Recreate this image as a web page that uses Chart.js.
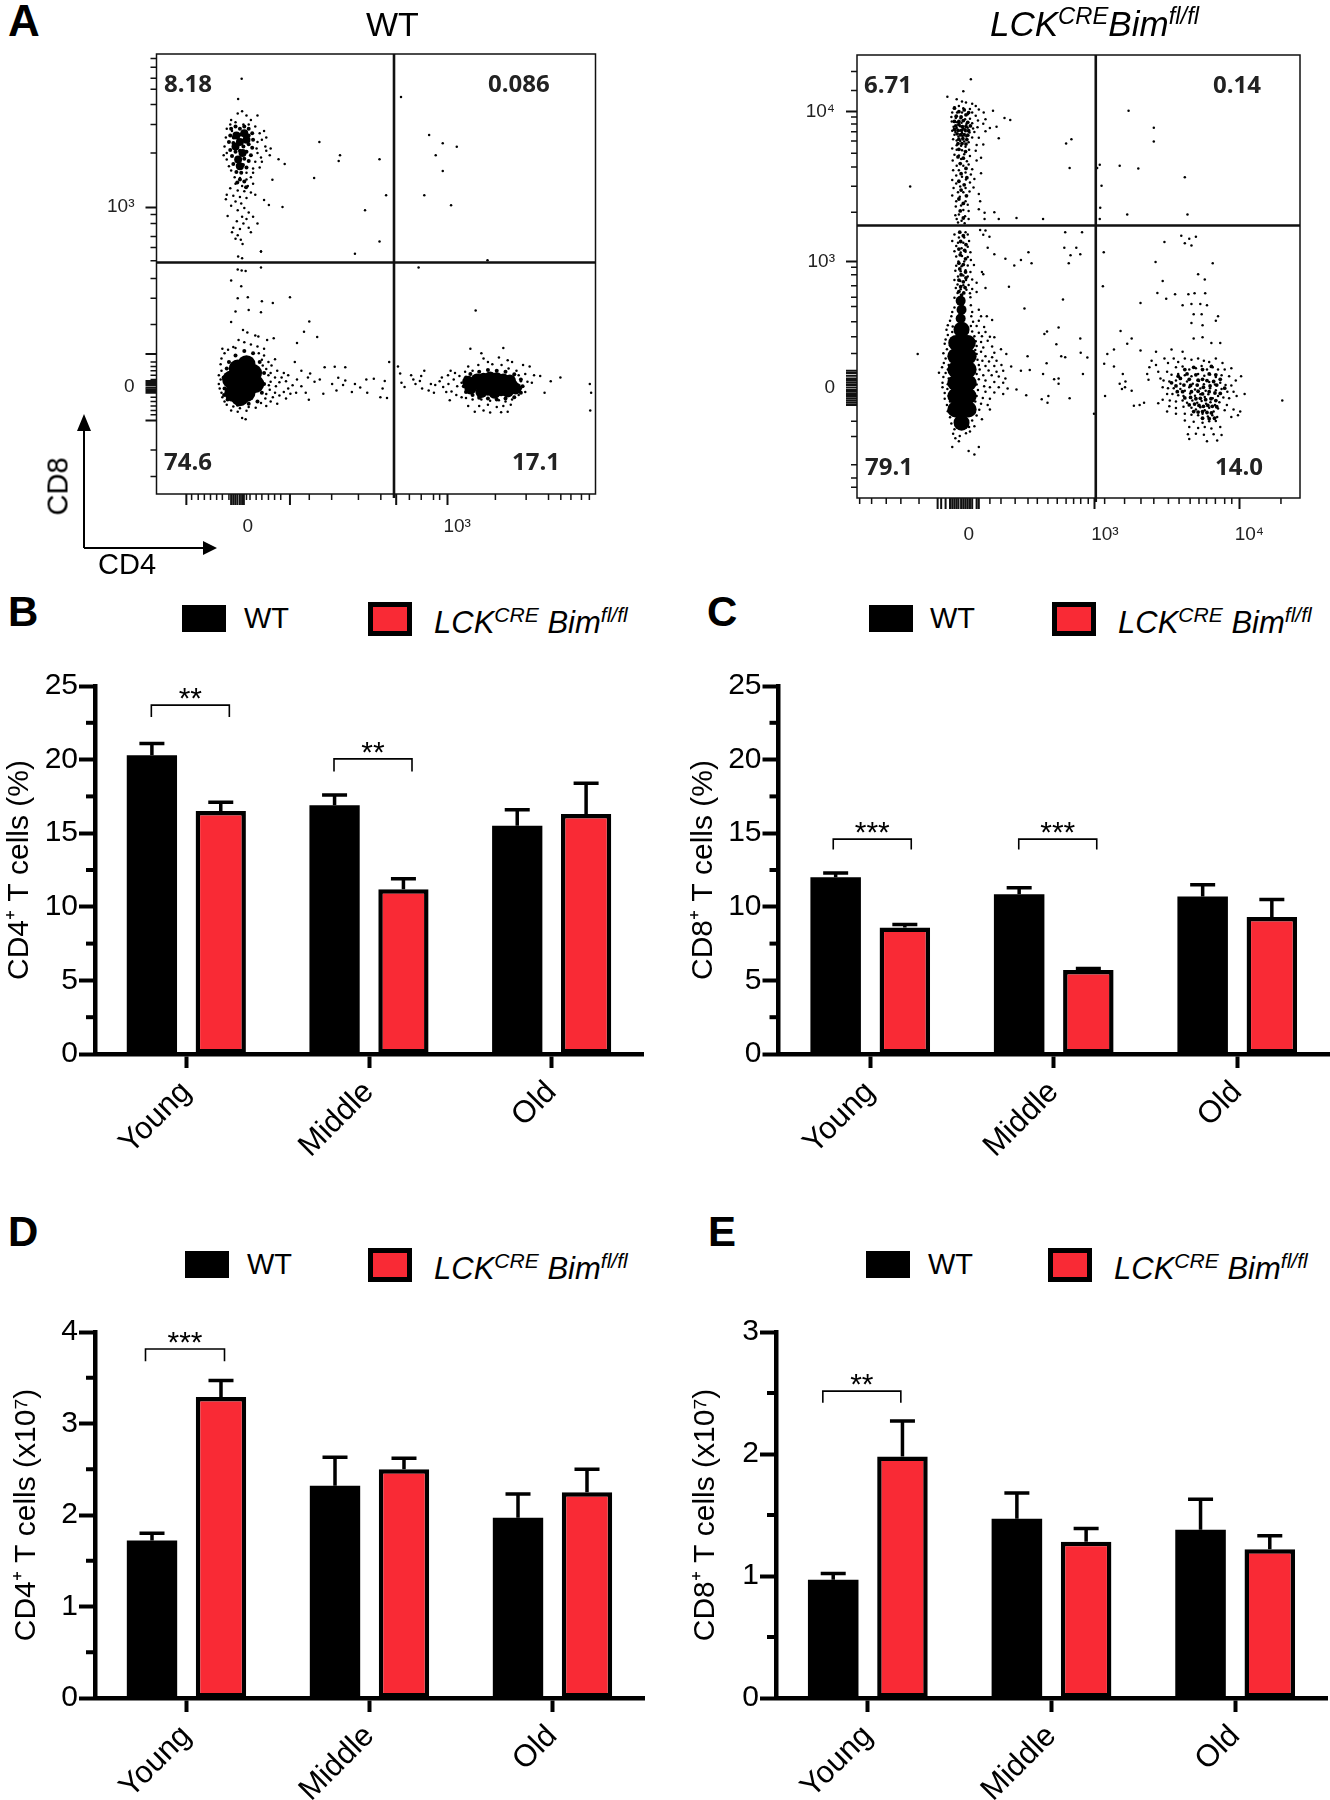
<!DOCTYPE html>
<html>
<head>
<meta charset="utf-8">
<title>CD4 and CD8 T cells</title>
<script src="https://cdn.jsdelivr.net/npm/chart.js@4"></script>
<style>
  body { margin: 0; background: #fff; width: 1330px; height: 1800px; position: relative; overflow: hidden; font-family: "Liberation Sans", Arial, sans-serif; color: #000; }
  canvas { position: absolute; }
  .t { position: absolute; white-space: nowrap; line-height: 1; }
  .t sup { font-size: .68em; line-height: 0; position: relative; top: -.02em; vertical-align: .5em; }
  .swatch { position: absolute; box-sizing: border-box; }
</style>
</head>
<body>
<svg style="position:absolute;left:0;top:0" width="300" height="600">
  <path d="M84 548V428M84 548H203" fill="none" stroke="#000" stroke-width="2"/>
  <path d="M84 414L77 431H91ZM217 548L203 541V555Z" fill="#000"/>
</svg>
<script>
// bar data, values
const ageGroups = ['Young', 'Middle', 'Old'];

const cd4PctWT = [20.3, 16.9, 15.5];
const cd4PctKO = [16.5, 11.2, 16.3];
const cd4PctWTErr = [21.1, 17.6, 16.6];
const cd4PctKOErr = [17.1, 11.9, 18.4];

const cd8PctWT = [12.0, 10.85, 10.7];
const cd8PctKO = [8.6, 5.7, 9.3];
const cd8PctWTErr = [12.3, 11.3, 11.5];
const cd8PctKOErr = [8.8, 5.8, 10.5];

const cd4NumWT = [1.72, 2.32, 1.97];
const cd4NumKO = [3.29, 2.5, 2.25];
const cd4NumWTErr = [1.8, 2.63, 2.23];
const cd4NumKOErr = [3.47, 2.62, 2.5];

const cd8NumWT = [0.97, 1.47, 1.38];
const cd8NumKO = [1.98, 1.28, 1.22];
const cd8NumWTErr = [1.02, 1.68, 1.63];
const cd8NumKOErr = [2.27, 1.39, 1.33];

// flow plots, both axes in percent of the plot box
const wtYTicks = [65.2, 24.3];
const wtYLabels = ['10³', '0'];
const wtXTicks = [18.5, 66.2];
const wtXLabels = ['0', '10³'];
const wtYMinor = [99, 97, 94.5, 92, 88.5, 84, 77.5, 63.5, 61.5, 58.5, 56, 53, 49, 44.5, 38.5, 30, 29, 28, 27, 26, 22, 21, 20, 19, 18, 10, 4];
const wtXMinor = [8, 9.5, 10.9, 12.3, 13.7, 15, 16.5, 20.5, 21.3, 22.7, 24, 25.5, 26.9, 28.3, 34.8, 39.9, 46, 51.1, 57.6, 60.3, 63.1, 64.5, 77.2, 84.2, 89.3, 92.1, 94.4, 96.8, 98.6];
const wtYLong = [31.8, 25.7, 25.2, 24.8, 23.8, 23.4, 16.7, 23];
const wtXLong = [6.8, 17, 17.5, 18, 19, 19.5, 19.9, 30.4, 54.6];
const wtQuadX = 54.1;
const wtQuadY = 52.6;

const koYTicks = [87.2, 53.4, 24.9];
const koYLabels = ['10⁴', '10³', '0'];
const koXTicks = [23, 53.7, 86.3];
const koXLabels = ['0', '10³', '10⁴'];
const koYMinor = [96.3, 92, 86, 84.4, 82.7, 80.6, 77.8, 74.7, 70.4, 64.5, 52.1, 50.4, 47.9, 45.3, 43.2, 39.8, 36.4, 32.6, 17.3, 13.9, 7.5, 4.5, 2.4];
const koXMinor = [0.6, 3.3, 6.6, 9.9, 14, 30, 32.5, 35.7, 38.6, 40.7, 43.1, 45.2, 47.2, 48.9, 50.5, 52.2, 55.9, 60.4, 64.1, 67, 70.3, 72.7, 75.2, 77.2, 78.9, 80.9, 83, 84.6, 95.7];
const koYLong = [28.7, 28.2, 27.6, 27, 26.5, 26, 25.5, 24.4, 24, 23.5, 23, 22.5, 22, 21.5, 21];
const koXLong = [18.2, 19, 20, 21, 21.5, 22, 22.5, 23.5, 24, 24.5, 25, 25.5, 26, 27, 27.5];
const koQuadX = 53.9;
const koQuadY = 61.5;

const wtCoreCD8 = [[19, 80], [19.6, 77.5], [18, 79], [20.5, 80.5], [18.6, 76], [20, 82], [18.2, 81.5], [19, 74.5]];
const wtMidCD8 = [[17, 83], [18, 83.5], [19, 83], [20, 83.5], [21, 83], [21.8, 82], [16.8, 81.5], [17.6, 81], [19.2, 81.7], [21, 81.5], [22, 80.5], [16.5, 80], [17.5, 79.8], [19.8, 79], [21, 79.5], [21.8, 78.7], [16.8, 78.2], [18, 77.8], [19, 78], [20.5, 77.8], [21.5, 77], [17.2, 76.8], [18.5, 76.3], [20, 76.2], [21, 75.7], [17.5, 75], [18.5, 74.6], [19.7, 74.8], [20.5, 74.2], [18.2, 73.2], [19.3, 73], [19, 71.5], [18.4, 70.8], [20, 71], [20.4, 69.7]];
const wtCoreDN = [[17.5, 23], [20.5, 23], [22.5, 25], [17, 26], [19.5, 26], [22, 27.5], [18.5, 28.5], [20.5, 29.5], [19, 22]];
const wtMidDN = [[15.5, 24], [15.3, 26.5], [16, 28.5], [16.5, 30], [18, 31.5], [20, 32.5], [22, 32], [23.5, 30], [24.5, 27.5], [24.5, 25], [24, 23], [23, 21], [21, 20.5], [18.5, 20.3], [16.2, 21.5], [15.4, 22.5]];
const wtCoreCD4 = [[72, 24.7], [74.5, 24.7], [77, 24.7], [79.5, 24.7], [81, 24.7], [73, 26], [76, 26.5], [79, 26], [74, 23.2], [77, 23], [80, 23.3], [71, 25.5], [71.5, 24], [75.5, 23.7], [78.5, 23.6], [74.5, 26.2], [77.5, 26.3], [80.5, 25.8], [81.8, 24]];
const wtMidCD4 = [[70, 24.5], [70.5, 26.5], [71.5, 27.3], [73.5, 27.8], [75.5, 28.2], [77.5, 28], [79.5, 27.8], [81.5, 27.2], [83, 26], [83.4, 24.5], [83, 23], [81.5, 22], [79.5, 21.7], [77.5, 21.5], [75.5, 21.7], [73.5, 21.9], [72, 22.5], [70.5, 23.2]];
const wtDots = [
  [17, 85], [18.5, 86.5], [19.5, 87], [20.5, 86], [21.5, 85], [23, 86], [16.8, 84], [18, 84.5], [19.8, 84], [21, 84], [22.5, 83.5], [24.5, 82.5], [25, 81], [16, 83], [17.2, 82.5], [23.5, 82], [15.8, 81], [24, 80.5], [23, 80], [15.5, 79], [24.8, 79], [22.8, 78.5], [16, 77.5], [23, 77.5], [25, 78], [26, 78.5], [15.3, 77], [23.8, 76.5], [25.8, 77], [16, 76], [22.5, 75.5], [24, 75.5], [16.5, 74.5], [22, 74], [23.5, 74.2], [17, 73.5], [20.5, 73], [22, 73], [17.8, 72], [19, 71.8], [20.5, 71.5], [21.5, 72], [18, 70.5], [19.5, 70], [20.8, 70], [22, 70.5], [16.8, 69.5], [18.5, 69], [20, 68.8], [21.5, 68.5], [16, 68], [17.5, 67.8], [19, 67.5], [20.5, 67.3], [22.5, 68], [15.8, 67], [18, 66.5], [19.3, 66], [17, 65.5], [20, 65], [18.5, 64.5], [21, 64], [16.2, 63.2], [19.5, 63], [20.5, 62.5], [22, 63], [18.3, 62], [19.8, 61.5], [23, 61.5], [17.5, 60.5], [19, 60.2], [21, 60.5], [17.2, 59.5], [18.5, 58.8], [21.5, 59.5], [19.2, 57.8], [18, 58], [19.6, 56.8], [23.8, 55.1], [18.6, 54], [19.5, 53.6],
  [19.4, 94.4], [18.6, 89.8], [37.1, 80], [41.8, 77], [41.5, 75.7], [50.8, 76.1], [35.9, 71.8], [29.2, 75], [27.8, 76.1], [26.4, 71.4], [52.3, 67.9], [47.5, 64.5], [28.7, 65.2], [25.6, 65.7], [24.5, 66.8], [50.8, 57.4], [45.2, 54.6], [23.8, 55.1], [55.7, 90.2], [62.1, 81.6], [65.2, 79.7], [68.4, 78.9], [63.6, 77], [65.2, 73.4], [61, 67.9], [67.1, 65.6], [75.4, 53.1], [59.7, 51.5], [72.7, 41.7],
  [18.5, 51], [19.4, 50.8], [20.3, 50.7], [23.8, 51.5], [17, 48.5], [19.3, 47.2], [18.5, 44.5], [20.8, 44.7], [24, 43.8], [26.5, 43.4], [30.4, 44.7], [18, 41.5], [21, 41.8], [23.8, 41.3], [17, 39.1], [34.8, 39.2], [19.7, 37.3], [20.7, 36.7], [33.6, 36.9], [36.6, 35.7], [32, 34.3], [26.7, 35.4], [23.2, 35.8], [25.2, 35], [22.5, 36], [18.7, 35], [20, 34.5], [21.5, 34], [23, 33.5], [17.5, 33.4], [24.5, 33],
  [15, 33], [16.3, 32.8], [18, 33.2], [15.5, 32], [23.3, 32], [24.5, 31.5], [14.8, 30.8], [24, 30.5], [25.5, 30], [26.2, 29.2], [27, 30.6], [14.6, 29.5], [24.2, 29.2], [25, 28.4], [14.8, 28], [26, 27.5], [27.5, 28], [29, 27.5], [14.2, 27], [25.5, 27], [27, 26.5], [28.5, 26.5], [30, 27], [14.6, 26], [26, 25.5], [28, 25.4], [29.5, 25.6], [14.2, 25], [25.6, 24.7], [27.2, 24.5], [30, 24], [14.4, 24], [25.8, 23.7], [27, 23], [29, 23.2], [14.8, 23], [25, 22.7], [26.5, 22], [28, 22.4], [15, 22], [24.8, 21.7], [26, 21], [15.5, 21], [23.8, 20.7], [25, 20], [27.5, 20.5], [16, 20.3], [17.5, 19.9], [19, 19.5], [21, 19.8], [22.6, 19.6], [17, 19], [18.5, 18.7], [20.5, 18.9], [19.5, 17.3], [20.3, 17],
  [31.5, 30], [33, 28], [35, 27.4], [32, 26], [34.5, 26.5], [31, 24.7], [33, 24.5], [36, 25.5], [31.8, 23], [34, 23], [37.2, 26], [29.5, 21.7], [30.5, 22.8], [34.7, 21.4], [38, 22.8], [38.3, 28.8], [40.6, 28.9], [43, 28.8], [41.4, 26.4], [43, 25.8], [40, 25], [42.5, 24.8], [45.2, 25], [41, 23.5], [44.5, 23.2], [46.4, 24.2], [47.8, 26], [48, 23], [49.5, 26.2], [52, 25.7], [51.5, 24], [51, 22], [52.5, 21.8], [53, 30], [55, 29], [55.5, 27.4], [55.8, 25.3], [56.5, 24.3], [58, 27], [58.5, 26], [59, 25], [60, 25.7], [60.3, 26.8], [61, 28], [60.5, 24], [62.5, 25], [62, 23.5], [63.5, 24.8], [63.2, 23], [64.5, 25.6], [65, 26.5], [65.3, 24.3], [66, 23.2], [66.4, 27],
  [67, 28], [68, 27.5], [66.5, 25], [67.7, 26], [69, 26.8], [68.5, 24.5], [69.5, 25.3], [67.2, 23.3], [68.3, 22.5], [69.5, 22], [66.8, 21.3], [70.3, 27.8], [71, 29], [72, 28], [73.3, 29.3], [71.5, 33], [74, 32], [74.5, 30.8], [75.5, 30], [76.5, 29.5], [78, 31], [79, 33.2], [78.6, 29.3], [80, 30.4], [81, 30], [80.2, 28.5], [82, 28], [83.5, 29.3], [85, 29], [82.5, 27], [84, 27.3], [86, 27], [87.4, 26.8], [83, 25.6], [84.5, 25.5], [85.5, 25.3], [83, 24], [84, 23.2], [82.5, 22.5], [81, 21.5], [79.5, 21], [78, 21.3], [76, 21.2], [74, 21.5], [72, 21.5], [70.5, 21.8], [71, 20], [73.5, 20], [75.5, 20.3], [77.5, 19.8], [79, 20], [80.7, 20.3], [72.5, 18.7], [74.5, 19], [76, 18.5], [78.5, 18.6], [80, 18.7], [88.4, 23], [89.8, 25.6], [92, 26.5], [98.7, 25], [99, 23], [98.8, 19]
];

const koCoreDN = [[23.6, 17], [22.2, 20], [23.6, 20], [25.2, 20], [22.2, 23], [23.6, 23], [25.2, 23], [22.2, 26], [23.6, 26], [25.2, 26], [22.2, 29], [23.6, 29], [25.2, 29], [22.2, 32], [23.6, 32], [25.2, 32], [22.4, 35], [23.6, 35], [25, 35], [23.6, 38]];
const koCoreTop = [[23.4, 40.5], [23.6, 42.5], [23.4, 44.5]];
const koMidCD8 = [[22, 88], [23, 87.2], [24.2, 87.6], [25.2, 87], [22.4, 86.2], [23.5, 86], [24.6, 86.5], [22, 85], [23, 85], [24, 85.2], [25, 84.8], [22.3, 84], [23, 84.3], [23.8, 83.8], [24.6, 83.9], [25.6, 84], [22, 83.2], [22.8, 83], [23.6, 83], [24.4, 83.1], [25.2, 82.9], [22.6, 82.2], [23.4, 82], [24.2, 82], [25, 81.9], [23, 81], [23.9, 81.1], [24.8, 80.9], [22.8, 80], [23.7, 80], [24.6, 79.9], [23, 78.7], [24.5, 78.2], [22.8, 77], [24, 76.7], [23.3, 75.5], [24.6, 74.4], [23.5, 73.2], [24.8, 72.3], [23, 71.5], [24.2, 70.7], [23.5, 69.5], [24.7, 68.2], [23, 67.5], [24, 66.5], [23.3, 64.8], [24, 63.2]];
const koMidColumn = [[23.2, 60], [24, 59.2], [23.4, 57.9], [24.6, 57.2], [23, 56.2], [24.3, 55.9], [23.3, 54.9], [24.5, 54], [23, 53], [24, 52.7], [23.2, 51.7], [24.5, 51], [23.5, 50.4], [24.6, 49.7], [23, 49.2], [24, 48.8], [23.4, 47.7], [24.4, 47.5], [23, 46.6], [24.1, 46.3], [23.6, 45.8]];
const koMidCD4 = [[74, 29], [76, 29.5], [78, 29], [80, 29.7], [72.5, 27.5], [74.5, 28], [76.5, 27.8], [78, 26.8], [79.5, 28], [81, 27.8], [71, 26], [73, 27], [75, 26.8], [77, 26.6], [79, 26.5], [80.5, 26.3], [82, 26.8], [72, 25.3], [73.8, 25.5], [75.3, 25.4], [76.8, 25.5], [78.2, 25], [79.7, 25.3], [81.2, 25.5], [83, 24.8], [72.3, 24], [73.5, 24], [75.5, 24], [77, 24.1], [78, 23.5], [79.5, 24], [80.8, 23.7], [82, 23.6], [74, 22.6], [75.3, 22.7], [76.5, 22.4], [77.5, 22.5], [78.7, 22.2], [79.9, 22.4], [81, 22], [75, 21], [76.2, 21.2], [77.2, 20.9], [78.2, 20.7], [79.2, 20.9], [80.2, 20.7], [81.2, 20.6], [76, 19.5], [77, 19.4], [78, 19.5], [79, 19.3], [80, 19.2], [78, 18], [79.5, 17.9], [80.7, 18]];
const koDots = [
  [25.7, 94.5], [24, 91.8], [20.4, 90.6], [22.5, 90], [23.7, 89.5], [24.6, 89.3], [26, 89], [26.8, 88.5], [22, 88.2], [23, 88.5], [24, 88], [25.5, 87.8], [27.5, 87.7], [21.5, 87], [22.6, 87], [23.7, 87], [25, 86.6], [26, 87], [26.8, 86.3], [28.6, 87], [30.7, 87.4], [21.3, 86], [22.3, 85.8], [23.4, 85.7], [24.4, 85.5], [25.5, 85.6], [27.3, 85.2], [29, 85.5], [33.3, 85.8], [34.6, 85.3], [21.4, 85], [22.6, 84.8], [23.6, 84.7], [24.7, 84.4], [26, 84.6], [28.5, 84.5], [21.8, 83.8], [22.5, 83.5], [23.3, 83.9], [24, 83.4], [25, 83.6], [26.2, 83.4], [27.2, 83.7], [30, 83.5], [31.5, 83.8], [21.5, 82.9], [22.2, 82.6], [23, 82.9], [23.7, 82.4], [24.5, 82.8], [25.4, 82.5], [26.5, 82.6], [29, 82.8], [22, 82], [22.9, 81.6], [23.8, 81.7], [24.7, 81.6], [26, 81.4], [27.5, 81.3], [32, 81.2], [21.7, 81], [22.5, 80.7], [23.3, 80.6], [24.2, 80.5], [25.2, 80.3], [22.5, 79.6], [23.5, 79.5], [24.5, 79.3], [27, 79.7], [28.5, 79.8], [21.5, 78.9], [22.5, 78.6], [23.7, 78.5], [25.3, 78.6], [26.8, 78.4], [48.4, 81], [47.2, 80], [22, 77.5], [23, 77.3], [24.2, 77.6], [25.5, 77.2], [28, 76.8], [21.6, 76.2], [23.5, 76.5], [24.8, 76], [27, 76.2], [22.5, 75], [24, 75], [25.2, 75.3], [21.7, 74], [23, 74], [26, 74.2], [48, 74.5], [24.5, 73.5], [25.7, 73], [22.4, 72.8], [23.7, 72.5], [28, 73.3], [21.5, 71.8], [24.6, 71.9], [26.5, 72], [22.4, 71], [25.5, 71.2], [21.8, 70], [23.3, 70.3], [24.5, 70], [26.3, 70.1], [22.8, 69], [24, 69], [25.4, 69.2], [21.5, 68.3], [23.2, 68], [27.5, 68.6], [22.4, 67], [24.5, 67], [23.5, 66], [25, 66.2], [27.8, 67], [22.3, 65.8], [24, 65], [25.2, 64.8], [27.5, 65.2], [23, 64], [22.2, 63.8], [24.4, 63.6], [31, 64.5], [28.8, 64.4], [22.5, 63], [23.6, 62.6], [25.2, 63], [28.8, 63], [32, 63], [36, 63.2], [42, 63], [22.8, 62.2], [24.3, 62],
  [24.5, 60], [27.8, 60.5], [29, 60.4], [22, 59.5], [25, 59.5], [23, 58.8], [24.2, 58.8], [28.5, 59.4], [29.9, 59], [21.5, 58], [22.8, 57.6], [24, 57.6], [25.3, 58], [22.4, 56.9], [23.6, 56.4], [25, 56.7], [29.5, 56.5], [22, 55.7], [23.4, 55.4], [24.5, 55.6], [25.6, 55.5], [22.4, 54.5], [23.7, 54.6], [25, 54.4], [22.9, 53.4], [24.2, 53.4], [25.7, 53.7], [22.4, 52.4], [23.6, 52.3], [25, 52.5], [26.4, 52.6], [22.2, 51.3], [23.4, 51.2], [24.5, 51.4], [25.6, 51], [22.8, 50], [24, 50.2], [25, 50], [28.2, 51], [28.5, 50.5], [22, 49.2], [23.3, 49], [24.6, 49.2], [26, 49.3], [22.7, 48.2], [24, 48], [25.2, 48.1], [27, 48.6], [22.3, 47.4], [23.4, 47.1], [24.7, 47], [26, 47.2], [22.7, 46.3], [25.5, 46.2], [27, 46.5], [22, 45.2], [25.6, 45.3], [29, 47.4],
  [22, 43], [25.7, 43.5], [21.5, 42], [26, 42], [27.5, 42.5], [21.3, 41], [25.8, 41], [28, 41], [21, 40], [26.2, 39.8], [27.5, 40], [29.3, 41], [30.5, 40.2], [20.5, 39], [21.6, 38.7], [25.7, 38.8], [27, 38.8], [28.7, 38.6], [20.2, 38], [21.5, 37.5], [26, 37.6], [27.5, 37.3], [29, 37.5], [20.5, 36.8], [26.5, 36.5], [28.2, 36.5], [30, 36.4], [31, 36.3], [20, 35.8], [21.4, 35.6], [26.8, 35.4], [28, 35.2], [29.5, 35.5], [19.8, 34.8], [21, 34.5], [27, 34.3], [28.5, 34], [30.5, 34.2], [20.3, 33.6], [26.7, 33.4], [28, 33], [31, 32.8], [32.5, 33.6], [19.5, 32.7], [20.8, 32.5], [27, 32.5], [29, 32], [30.5, 31.8], [33.7, 32.5], [20, 31.5], [21.2, 31], [27.2, 31.2], [28.3, 31], [29.8, 30.8], [31.5, 31], [19.6, 30.5], [20.7, 30], [27.5, 30], [29, 29.8], [31, 29.8], [32.6, 30], [34.8, 29.7], [19.2, 29.5], [20.5, 29], [27.7, 29], [29.7, 28.8], [31.5, 28.5], [33, 28.7], [37, 28.7], [39, 28.9], [18.5, 28.3], [20, 28.2], [27, 28], [28.5, 27.7], [30.4, 27.7], [32, 27.4], [33.5, 27], [19.5, 27.3], [20.7, 27], [27.5, 26.8], [29, 26.5], [31, 26.2], [33, 26], [19.3, 26], [20.5, 25.7], [27, 25.6], [28.7, 25.2], [30, 25], [32, 25], [34, 24.7], [36, 24.5], [19.3, 25], [20.4, 24.6], [27.3, 24.4], [29, 24], [31, 23.8], [33, 23.5], [19.8, 23.7], [20.7, 23], [27, 23], [28.4, 22.6], [30, 22.4], [19.8, 22.4], [21, 21.8], [26.7, 21.8], [28, 21.3], [29.5, 21], [20.3, 21], [21.2, 20.2], [26.4, 20.3], [27.6, 19.9], [30, 20], [20.5, 19.6], [21.6, 19], [25.8, 18.9], [27, 18.6], [21, 18.2], [26, 17.5], [28.2, 17.8], [21.3, 16.8], [22, 15.5], [25.3, 16], [26.5, 16.2], [21.7, 14.5], [23.2, 14], [24.6, 14.6], [25.5, 15], [22.2, 13.5], [23, 12.8], [21.5, 11.5], [27.5, 11.5], [25.2, 10.6], [26.5, 9.8],
  [12, 70.3], [13.7, 32.5], [37, 53.7], [38.7, 55.5], [39.4, 53], [35.5, 52.5], [34.3, 47.7], [33.5, 54], [31, 55], [37.8, 42.8], [46.5, 44.8], [45.5, 38.5], [50.4, 36], [42.3, 37], [42.9, 37.6], [45, 34.7], [46.1, 32], [47, 31.8], [50.5, 32.8], [52, 31.7], [38.5, 32], [42.8, 30.4], [44.5, 26.8], [45.5, 25.8], [51, 28], [42, 28], [38.2, 23.2], [41.7, 22.3], [43.2, 23], [43, 21.5], [48, 22.5], [45.5, 27], [47.8, 53], [48.2, 54.8], [50.4, 55], [49.5, 56.5], [46.8, 56.5], [47, 60], [50.8, 60],
  [55.7, 55.5], [55.5, 47.8], [55.8, 30.3], [56.5, 32.5], [56, 23], [53.5, 19], [54.9, 65.5], [55.2, 70.5], [54.2, 74.5], [54.8, 75.2], [54.8, 63], [59.3, 75], [63.5, 74.4], [61, 64], [74, 72.4], [74.6, 64], [61.3, 87.4], [67, 83.6], [67, 80.5],
  [73.2, 59.2], [75, 58.5], [76.5, 59], [74, 57.5], [75.5, 57], [69.4, 57.8], [67.4, 53.3], [80.3, 53], [77, 50.5], [78.5, 49.3], [69, 49], [67.8, 46.3], [78.6, 46.2], [71.8, 46], [74.8, 46], [76.2, 46.2], [69.8, 45], [64, 44], [73.5, 43.5], [75.5, 43.8], [77.5, 43.8], [79, 43.5], [76, 41.5], [77.8, 41.5], [81.5, 41], [81, 40], [75.5, 39.5], [78, 39], [59.5, 37.7], [62, 36], [61, 34.8], [58, 33.5], [64, 33.3], [67.5, 33], [71, 33.5], [73.5, 33], [76, 36], [78, 36.3], [80, 35], [82, 35],
  [58, 29.7], [60, 28], [60.6, 26.3], [59.3, 25.8], [60.5, 25], [59.8, 24.6], [62, 24.2], [63.8, 21], [62.5, 20.8], [64.8, 21.5], [66, 29.5], [65.5, 28], [65.8, 26.7], [66.5, 31], [67.5, 30], [68, 28.5], [68.5, 27], [69.4, 31.5], [70.2, 30.5], [71.5, 31.5], [72.5, 30.7], [74, 31.5], [75.5, 31.2], [77, 31.5], [78.3, 31], [79.5, 30.7], [81, 31.5], [82.5, 30.5], [72, 29.5], [73.5, 29.7], [75, 29], [76.5, 29.3], [77.8, 29.8], [79, 29], [80.3, 29.5], [81.5, 29], [83, 29], [84.5, 29.3], [70, 28.5], [71, 27.8], [72.5, 28], [74, 27.7], [75.5, 27.5], [77, 28], [78.4, 27.6], [79.7, 27.9], [81, 27.3], [82.3, 27.7], [84, 27.5], [85.5, 26.5], [69.2, 26.5], [70.5, 26.3], [72, 26.5], [73, 25.8], [74.5, 26.3], [75.8, 25.8], [77.2, 26.4], [78.3, 25.7], [79.5, 26.2], [80.8, 25.6], [82, 26], [83.2, 25.5], [84.5, 25.4], [69, 25], [70.2, 24.8], [71.5, 24.8], [73, 24.6], [74, 24.2], [75, 25], [76.3, 24.5], [77.5, 24.7], [78.7, 24.2], [79.7, 24.8], [81, 24.3], [82.3, 24.6], [83.6, 24], [85, 24], [86.7, 27.5], [87.5, 23.5], [70, 23.5], [71.2, 23.5], [72.5, 23.2], [73.7, 23], [75.2, 23.6], [76.3, 23.1], [77.5, 23.4], [78.5, 22.8], [79.3, 23.4], [80.3, 22.5], [81.5, 23], [82.7, 22.7], [84, 22.5], [85.7, 23], [69, 22.2], [70.6, 22], [72, 21.8], [73.5, 22], [74.5, 21.5], [75.7, 22], [76.8, 21.5], [77.8, 21.9], [78.8, 21.3], [79.8, 21.6], [80.8, 21], [81.8, 21.6], [83.5, 21], [68, 21.4], [70.5, 20.7], [72, 20.3], [73.7, 20.6], [75.5, 20.4], [76.5, 20], [77.5, 20.5], [78.5, 19.8], [79.5, 20.4], [80.5, 19.5], [81.5, 20.2], [83, 19.8], [85, 20], [86.5, 19.5], [70, 19.5], [72, 19], [74, 19], [75.5, 18.8], [77, 18.7], [78, 19], [79.2, 18.4], [80.2, 18.7], [81.3, 18.3], [84.5, 18.3], [86, 18.7], [74, 17.5], [76, 17.2], [78, 17], [79.5, 17.3], [81, 17.4], [75, 16], [77, 15.8], [78.5, 16], [80, 15.7], [82, 16], [74.7, 14.4], [76.5, 14.5], [78.3, 14.3], [80.5, 14.4], [82.3, 14.2], [75, 13.3], [79, 12.8], [81.3, 13], [96, 22]
];

const lckBim = '<i>LCK<sup>CRE</sup> Bim<sup>fl/fl</sup></i>';
const barBlack = '#000000';
const barRed = '#f92a35';

// small text helper: x is the left edge, base the text baseline
function addText(html, x, base, size, style) {
  const el = document.createElement('div');
  el.className = 't';
  el.innerHTML = html;
  el.style.cssText = `left:${x}px;top:${base - size * 0.85}px;font-size:${size}px;${style || ''}`;
  document.body.appendChild(el);
  return el;
}

function addSwatch(x, y, w, h, fill, border) {
  const el = document.createElement('div');
  el.className = 'swatch';
  el.style.cssText = `left:${x}px;top:${y}px;width:${w}px;height:${h}px;background:${fill};border:${border}px solid #000`;
  document.body.appendChild(el);
}

function addLegend(blackX, wtX, redX, textX, top) {
  addSwatch(blackX, top + 3, 44, 27, '#000', 0);
  addText('WT', wtX, top + 27, 29);
  addSwatch(redX, top, 44, 34, barRed, 5);
  addText(lckBim, textX, top + 31, 31);
}

function addCanvas(x, y, w, h) {
  const c = document.createElement('canvas');
  c.width = w;
  c.height = h;
  c.style.left = x + 'px';
  c.style.top = y + 'px';
  document.body.appendChild(c);
  return c;
}

// error bars, significance brackets and the half ticks on the y axis
const barExtras = {
  id: 'barExtras',
  afterDatasetsDraw(chart, args, opts) {
    const ctx = chart.ctx;
    const y = chart.scales.y;
    const x = chart.scales.x;
    ctx.save();
    ctx.strokeStyle = '#000';
    ctx.lineWidth = 3.5;
    opts.errors.forEach((tops, d) => {
      chart.getDatasetMeta(d).data.forEach((bar, i) => {
        const py = y.getPixelForValue(tops[i]);
        ctx.beginPath();
        ctx.moveTo(bar.x, bar.y);
        ctx.lineTo(bar.x, py);
        ctx.moveTo(bar.x - 12.5, py);
        ctx.lineTo(bar.x + 12.5, py);
        ctx.stroke();
      });
    });
    ctx.lineWidth = 4;
    opts.minor.forEach(v => {
      const py = y.getPixelForValue(v);
      ctx.beginPath();
      ctx.moveTo(x.left, py);
      ctx.lineTo(x.left - 9, py);
      ctx.stroke();
    });
    ctx.lineWidth = 1.6;
    ctx.fillStyle = '#000';
    ctx.font = '30px "Liberation Sans"';
    ctx.textAlign = 'center';
    opts.brackets.forEach(b => {
      const cx = x.getPixelForValue(b.cat);
      const py = y.getPixelForValue(b.top);
      const leg = y.getPixelForValue(b.leg);
      ctx.beginPath();
      ctx.moveTo(cx + b.from, leg);
      ctx.lineTo(cx + b.from, py);
      ctx.lineTo(cx + b.to, py);
      ctx.lineTo(cx + b.to, leg);
      ctx.stroke();
      ctx.fillText(b.stars, cx + (b.from + b.to) / 2, py + 3);
    });
    ctx.restore();
  }
};

function makeBarChart(p) {
  const canvas = addCanvas(p.cx, p.cy, p.cw, p.ch);
  new Chart(canvas, {
    type: 'bar',
    data: {
      labels: ageGroups,
      datasets: [
        { label: 'WT', data: p.wt, backgroundColor: barBlack, borderWidth: 0 },
        { label: 'LCK CRE Bim fl/fl', data: p.ko, backgroundColor: barRed, borderColor: barBlack, borderWidth: 4.5, borderSkipped: false }
      ]
    },
    plugins: [barExtras],
    options: {
      responsive: false,
      animation: false,
      devicePixelRatio: 1,
      categoryPercentage: 0.754,
      barPercentage: 0.73,
      layout: { padding: { top: p.top - p.cy, right: p.cx + p.cw - p.right, left: 0, bottom: 0 } },
      plugins: {
        legend: { display: false },
        tooltip: { enabled: false },
        barExtras: { errors: [p.wtErr, p.koErr], minor: p.minor, brackets: p.brackets }
      },
      scales: {
        x: {
          grid: { offset: false, drawOnChartArea: false, tickLength: 14, tickWidth: 4, tickColor: '#000' },
          border: { color: '#000', width: 4.5 },
          ticks: { color: '#000', font: { family: 'Liberation Sans', size: 31 }, minRotation: 45, maxRotation: 45, padding: 6, autoSkip: false },
          afterFit(s) { s.height = p.cy + p.ch - p.bottom; s.paddingLeft = 0; s.paddingRight = 0; }
        },
        y: {
          min: 0,
          max: p.max,
          grid: { drawOnChartArea: false, tickLength: 16, tickWidth: 4, tickColor: '#000' },
          border: { color: '#000', width: 4.5 },
          ticks: { stepSize: p.step, color: '#000', font: { family: 'Liberation Sans', size: 30 }, padding: 1 },
          title: { display: true, text: p.title, color: '#000', font: { family: 'Liberation Sans', size: 30 }, padding: { top: p.titlePad, bottom: 0 } },
          afterFit(s) { s.width = p.left - p.cx; s.paddingTop = 0; s.paddingBottom = 0; }
        }
      }
    }
  });
}

// box, quadrant gate and the small log ticks of a flow plot
const flowExtras = {
  id: 'flowExtras',
  afterDraw(chart, args, opts) {
    const ctx = chart.ctx;
    const a = chart.chartArea;
    const x = chart.scales.x;
    const y = chart.scales.y;
    const ticks = (yList, xList, len) => {
      ctx.beginPath();
      yList.forEach(v => {
        const py = y.getPixelForValue(v);
        ctx.moveTo(a.left, py);
        ctx.lineTo(a.left - len, py);
      });
      xList.forEach(v => {
        const px = x.getPixelForValue(v);
        ctx.moveTo(px, a.bottom);
        ctx.lineTo(px, a.bottom + len);
      });
      ctx.stroke();
    };
    ctx.save();
    ctx.strokeStyle = '#111';
    ctx.lineWidth = 1.5;
    ctx.strokeRect(a.left, a.top, a.right - a.left, a.bottom - a.top);
    ticks(opts.yMinor, opts.xMinor, 6);
    ctx.lineWidth = 2;
    ticks(opts.yLong, opts.xLong, 11);
    ctx.lineWidth = 2.6;
    ctx.beginPath();
    ctx.moveTo(x.getPixelForValue(opts.quadX), a.top);
    ctx.lineTo(x.getPixelForValue(opts.quadX), a.bottom + 4);
    ctx.moveTo(a.left, y.getPixelForValue(opts.quadY));
    ctx.lineTo(a.right, y.getPixelForValue(opts.quadY));
    ctx.stroke();
    ctx.restore();
  }
};

function toPoints(list) {
  return list.map(p => ({ x: p[0], y: p[1] }));
}

function makeFlowChart(p) {
  const canvas = addCanvas(p.cx, p.cy, p.cw, p.ch);
  new Chart(canvas, {
    type: 'scatter',
    data: {
      datasets: p.layers.map(l => ({ data: toPoints(l.points), backgroundColor: '#000', pointRadius: l.radius, pointBorderWidth: 0 }))
    },
    plugins: [flowExtras],
    options: {
      responsive: false,
      animation: false,
      devicePixelRatio: 1,
      layout: { padding: { top: p.top - p.cy, right: p.cx + p.cw - p.right, left: 0, bottom: 0 } },
      plugins: {
        legend: { display: false },
        tooltip: { enabled: false },
        flowExtras: { xMinor: p.xMinor, yMinor: p.yMinor, xLong: p.xLong, yLong: p.yLong, quadX: p.quadX, quadY: p.quadY }
      },
      scales: {
        x: {
          type: 'linear',
          min: 0,
          max: 100,
          grid: { drawOnChartArea: false, tickLength: 11, tickWidth: 2, tickColor: '#111' },
          border: { display: false },
          afterBuildTicks(s) { s.ticks = p.xTicks.map(v => ({ value: v })); },
          ticks: {
            autoSkip: false, maxRotation: 0, padding: p.xPad, labelOffset: 10, color: '#222',
            font: { family: 'Liberation Sans', size: 19 },
            callback: v => p.xLabels[p.xTicks.indexOf(v)]
          },
          afterFit(s) { s.height = p.cy + p.ch - p.bottom; s.paddingLeft = 0; s.paddingRight = 0; }
        },
        y: {
          type: 'linear',
          min: 0,
          max: 100,
          grid: { drawOnChartArea: false, tickLength: 11, tickWidth: 2, tickColor: '#111' },
          border: { display: false },
          afterBuildTicks(s) { s.ticks = p.yTicks.map(v => ({ value: v })); },
          ticks: {
            autoSkip: false, padding: 11, color: '#222',
            font: { family: 'Liberation Sans', size: 19 },
            callback: v => p.yLabels[p.yTicks.indexOf(v)]
          },
          afterFit(s) { s.width = p.left - p.cx; s.paddingTop = 0; s.paddingBottom = 0; }
        }
      }
    }
  });
}

// Panel A
makeFlowChart({
  cx: 60, cy: 40, cw: 560, ch: 510, left: 156.5, right: 595.5, top: 54, bottom: 494, xPad: 10,
  layers: [
    { points: wtDots, radius: 1.25 },
    { points: wtMidCD8.concat(wtMidDN, wtMidCD4), radius: 2 },
    { points: wtCoreCD8, radius: 4 },
    { points: wtCoreDN, radius: 9 },
    { points: wtCoreCD4, radius: 6 }
  ],
  xTicks: wtXTicks, xLabels: wtXLabels, yTicks: wtYTicks, yLabels: wtYLabels,
  xMinor: wtXMinor, yMinor: wtYMinor, xLong: wtXLong, yLong: wtYLong, quadX: wtQuadX, quadY: wtQuadY
});
makeFlowChart({
  cx: 780, cy: 40, cw: 550, ch: 510, left: 857, right: 1300, top: 55, bottom: 498, xPad: 14,
  layers: [
    { points: koDots, radius: 1.25 },
    { points: koMidCD8.concat(koMidColumn, koMidCD4), radius: 1.9 },
    { points: koCoreTop, radius: 5 },
    { points: koCoreDN, radius: 8 }
  ],
  xTicks: koXTicks, xLabels: koXLabels, yTicks: koYTicks, yLabels: koYLabels,
  xMinor: koXMinor, yMinor: koYMinor, xLong: koXLong, yLong: koYLong, quadX: koQuadX, quadY: koQuadY
});

// Panels B to E
makeBarChart({
  cx: 0, cy: 660, cw: 660, ch: 540, left: 95, right: 643, top: 686, bottom: 1054,
  wt: cd4PctWT, ko: cd4PctKO, wtErr: cd4PctWTErr, koErr: cd4PctKOErr, max: 25, step: 5,
  minor: [2.5, 7.5, 12.5, 17.5, 22.5], title: 'CD4⁺ T cells (%)', titlePad: 2,
  brackets: [
    { cat: 0, from: -35, to: 43, top: 23.7, leg: 22.9, stars: '**' },
    { cat: 1, from: -35, to: 43, top: 20.05, leg: 19.2, stars: '**' }
  ]
});
makeBarChart({
  cx: 670, cy: 660, cw: 660, ch: 540, left: 778.5, right: 1329, top: 686, bottom: 1054,
  wt: cd8PctWT, ko: cd8PctKO, wtErr: cd8PctWTErr, koErr: cd8PctKOErr, max: 25, step: 5,
  minor: [2.5, 7.5, 12.5, 17.5, 22.5], title: 'CD8⁺ T cells (%)', titlePad: 16,
  brackets: [
    { cat: 0, from: -37, to: 41, top: 14.6, leg: 13.9, stars: '***' },
    { cat: 1, from: -35, to: 43, top: 14.6, leg: 13.9, stars: '***' }
  ]
});
makeBarChart({
  cx: 0, cy: 1300, cw: 660, ch: 500, left: 95, right: 644, top: 1332, bottom: 1698,
  wt: cd4NumWT, ko: cd4NumKO, wtErr: cd4NumWTErr, koErr: cd4NumKOErr, max: 4, step: 1,
  minor: [0.5, 1.5, 2.5, 3.5], title: 'CD4⁺ T cells (x10⁷)', titlePad: 9,
  brackets: [
    { cat: 0, from: -41, to: 38, top: 3.815, leg: 3.68, stars: '***' }
  ]
});
makeBarChart({
  cx: 670, cy: 1300, cw: 660, ch: 500, left: 776, right: 1327, top: 1332, bottom: 1698,
  wt: cd8NumWT, ko: cd8NumKO, wtErr: cd8NumWTErr, koErr: cd8NumKOErr, max: 3, step: 1,
  minor: [0.5, 1.5, 2.5], title: 'CD8⁺ T cells (x10⁷)', titlePad: 18,
  brackets: [
    { cat: 0, from: -45, to: 33, top: 2.515, leg: 2.42, stars: '**' }
  ]
});

addLegend(182, 244, 368, 434, 602);
addLegend(869, 930, 1052, 1118, 602);
addLegend(185, 247, 368, 434, 1248);
addLegend(866, 928, 1048, 1114, 1248);

// panel letters
addText('A', 8, 36, 44, 'font-weight:bold');
addText('B', 8, 627, 42, 'font-weight:bold');
addText('C', 707, 627, 42, 'font-weight:bold');
addText('D', 8, 1247, 42, 'font-weight:bold');
addText('E', 708, 1247, 42, 'font-weight:bold');

// titles of the flow plots
addText('WT', 366, 36, 34);
addText('<i>LCK<sup>CRE</sup>Bim<sup>fl/fl</sup></i>', 990, 36, 35);

// quadrant percentages
const gateStyle = 'font-family:"Open Sans";font-weight:700;color:#222';
addText('8.18', 164, 91, 24, gateStyle);
addText('0.086', 488, 91, 24, gateStyle);
addText('74.6', 164, 469, 24, gateStyle);
addText('17.1', 512, 469, 24, gateStyle);
addText('6.71', 864, 92, 24, gateStyle);
addText('0.14', 1213, 92, 24, gateStyle);
addText('79.1', 865, 474, 24, gateStyle);
addText('14.0', 1215, 474, 24, gateStyle);

// CD8 / CD4 direction arrows
addText('CD4', 98, 575, 29);
const cd8 = addText('CD8', 29, 497, 29);
cd8.style.transform = 'rotate(-90deg)';
</script>
</body>
</html>
